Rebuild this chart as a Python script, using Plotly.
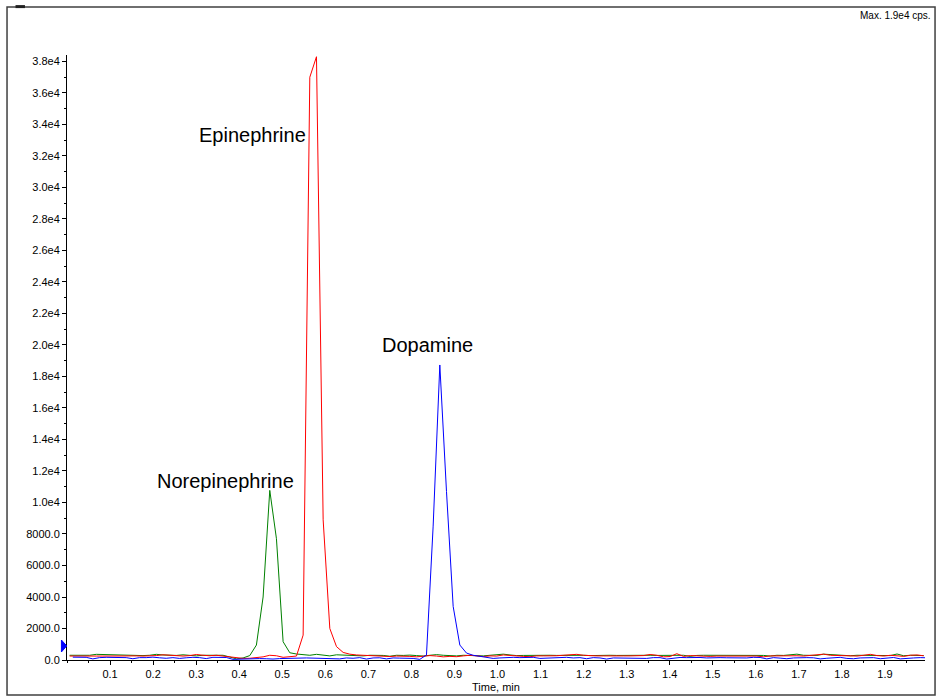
import plotly.graph_objects as go

# ---- data ----
dt = 0.0155
t0_rg = 0.006     # first sampling time for norepinephrine / epinephrine traces
t0_b = 0.0135     # first sampling time for dopamine trace

norepinephrine = [
    300, 290, 300, 300, 360, 350, 300, 290, 280, 290,
    290, 280, 300, 360, 320, 290, 290, 330, 290, 260,
    300, 290, 280, 300, 190, 70, 130, 280, 950, 4000,
    10770, 7700, 1160, 460, 380, 360, 300, 360, 320, 260,
    330, 310, 300, 290, 260, 300, 300, 290, 240, 300,
    290, 310, 280, 250, 300, 340, 300, 270, 260, 300,
    290, 270, 260, 300, 330, 370, 320, 280, 290, 300,
    300, 280, 300, 290, 300, 300, 290, 300, 280, 300,
    300, 300, 290, 300, 310, 300, 300, 300, 290, 290,
    300, 290, 300, 230, 290, 300, 300, 290, 300, 280,
    300, 300, 300, 300, 290, 250, 300, 290, 310, 370,
    300, 280, 290, 370, 350, 290, 300, 270, 300, 300,
    300, 290, 300, 280, 380, 270, 300, 290, 280,
]

epinephrine = [
    250, 260, 230, 250, 250, 250, 260, 250, 240, 260,
    260, 250, 260, 280, 330, 290, 260, 250, 280, 350,
    300, 270, 300, 250, 180, 120, 100, 110, 150, 200,
    300, 270, 170, 200, 250, 1580, 37000, 38300, 8900, 2000,
    850, 480, 370, 320, 300, 320, 280, 260, 220, 250,
    260, 230, 200, 260, 280, 250, 200, 230, 210, 260,
    300, 260, 220, 260, 250, 320, 280, 240, 230, 210,
    260, 260, 250, 270, 300, 350, 360, 300, 260, 260,
    260, 250, 230, 260, 260, 250, 280, 350, 300, 200,
    220, 400, 230, 280, 250, 260, 230, 250, 250, 260,
    280, 260, 240, 250, 200, 260, 260, 260, 300, 270,
    250, 280, 330, 370, 300, 280, 260, 260, 250, 300,
    360, 280, 250, 300, 280, 230, 300, 320, 270,
]

dopamine = [
    180, 190, 170, 70, 150, 170, 160, 160, 150, 80,
    150, 150, 180, 140, 110, 150, 100, 140, 170, 150,
    90, 170, 160, 160, 40, 60, 80, 60, 90, 80,
    60, 90, 110, 120, 150, 130, 120, 100, 110, 90,
    70, 130, 110, 150, 60, 130, 140, 70, 130, 120,
    130, 100, 40, 320, 8500, 18730, 10700, 3400, 950, 440,
    300, 230, 180, 100, 130, 160, 170, 150, 160, 170,
    100, 120, 160, 150, 170, 130, 150, 80, 150, 130,
    60, 130, 130, 140, 100, 100, 100, 150, 150, 60,
    110, 160, 150, 160, 160, 130, 150, 150, 140, 140,
    120, 130, 170, 160, 70, 150, 120, 80, 130, 160,
    150, 140, 70, 110, 150, 170, 100, 80, 130, 140,
    150, 80, 140, 160, 70, 120, 130, 150, 140,
]

x_tick_vals = [0.1, 0.2, 0.3, 0.4, 0.5, 0.6, 0.7, 0.8, 0.9, 1.0,
               1.1, 1.2, 1.3, 1.4, 1.5, 1.6, 1.7, 1.8, 1.9]
x_tick_text = ["0.1", "0.2", "0.3", "0.4", "0.5", "0.6", "0.7", "0.8", "0.9", "1.0",
               "1.1", "1.2", "1.3", "1.4", "1.5", "1.6", "1.7", "1.8", "1.9"]
y_tick_vals = [0, 2000, 4000, 6000, 8000, 10000, 12000, 14000, 16000, 18000,
               20000, 22000, 24000, 26000, 28000, 30000, 32000, 34000, 36000, 38000]
y_tick_text = ["0.0", "2000.0", "4000.0", "6000.0", "8000.0", "1.0e4", "1.2e4", "1.4e4",
               "1.6e4", "1.8e4", "2.0e4", "2.2e4", "2.4e4", "2.6e4", "2.8e4", "3.0e4",
               "3.2e4", "3.4e4", "3.6e4", "3.8e4"]

peak_labels = ["Epinephrine", "Norepinephrine", "Dopamine"]
peak_label_x = [0.431, 0.367, 0.838]
peak_label_y = [33330, 11365, 20000]

threshold_level = 890   # blue marker level on the y axis

t_rg = [t0_rg + dt * i for i in range(len(norepinephrine))]
t_b = [t0_b + dt * i for i in range(len(dopamine))]

FONT = "Liberation Sans, Arial, sans-serif"

fig = go.Figure()
fig.add_trace(go.Scatter(x=t_rg, y=norepinephrine, mode="lines",
                         line=dict(color="#008000", width=1), hoverinfo="skip"))
fig.add_trace(go.Scatter(x=t_rg, y=epinephrine, mode="lines",
                         line=dict(color="#ff0000", width=1), hoverinfo="skip"))
fig.add_trace(go.Scatter(x=t_b, y=dopamine, mode="lines",
                         line=dict(color="#0000ff", width=1), hoverinfo="skip"))

# small blue threshold marker on the y axis (triangle pointing right)
half = 380
fig.add_shape(type="path", xref="paper", yref="y",
              path=f"M -0.0065,{threshold_level + half} L -0.0004,{threshold_level} "
                   f"L -0.0065,{threshold_level - half} Z",
              fillcolor="#0000ff", line=dict(color="#0000ff", width=1), layer="above")

for txt, xx, yy in zip(peak_labels, peak_label_x, peak_label_y):
    fig.add_annotation(x=xx, y=yy, xref="x", yref="y", text=txt, showarrow=False,
                       font=dict(family=FONT, size=20, color="#000000"),
                       xanchor="center", yanchor="middle")

fig.add_annotation(x=1.0093, y=1.066, xref="paper", yref="paper", text="Max. 1.9e4 cps.",
                   showarrow=False, xanchor="right", yanchor="middle",
                   font=dict(family=FONT, size=10, color="#000000"))
fig.add_annotation(x=0.5, y=-0.0446, xref="paper", yref="paper", text="Time, min",
                   showarrow=False, xanchor="center", yanchor="middle",
                   font=dict(family=FONT, size=11, color="#000000"))

# outer frame
fig.add_shape(type="rect", xref="paper", yref="paper",
              x0=-0.0699, x1=1.0117, y0=-0.0579, y1=1.0793,
              line=dict(color="#404040", width=1.5), layer="above")
fig.add_shape(type="line", xref="paper", yref="paper",
              x0=-0.060, x1=-0.049, y0=1.0800, y1=1.0800,
              line=dict(color="#202020", width=3))

fig.update_layout(
    width=938, height=698,
    margin=dict(l=67, r=13, t=55, b=38),
    paper_bgcolor="white", plot_bgcolor="white",
    showlegend=False,
    font=dict(family=FONT, size=11, color="#000000"),
    xaxis=dict(range=[0, 1.993], tickmode="array", tickvals=x_tick_vals, ticktext=x_tick_text,
               showgrid=False, zeroline=False, showline=True, linecolor="black", linewidth=1,
               ticks="outside", ticklen=4, tickcolor="black",
               minor=dict(tickmode="linear", tick0=0, dtick=0.05, ticks="outside",
                          ticklen=2, tickcolor="black", showgrid=False),
               tickfont=dict(family=FONT, size=11, color="#000000")),
    yaxis=dict(range=[0, 38410], tickmode="array", tickvals=y_tick_vals, ticktext=y_tick_text,
               showgrid=False, zeroline=False, showline=True, linecolor="black", linewidth=1,
               ticks="outside", ticklen=4, tickcolor="black",
               minor=dict(tickmode="linear", tick0=0, dtick=1000, ticks="outside",
                          ticklen=2, tickcolor="black", showgrid=False),
               tickfont=dict(family=FONT, size=11, color="#000000")),
)

fig.write_html("out.html", config={"displayModeBar": False},
               post_script="document.body.style.margin='0';document.body.style.overflow='hidden';")
